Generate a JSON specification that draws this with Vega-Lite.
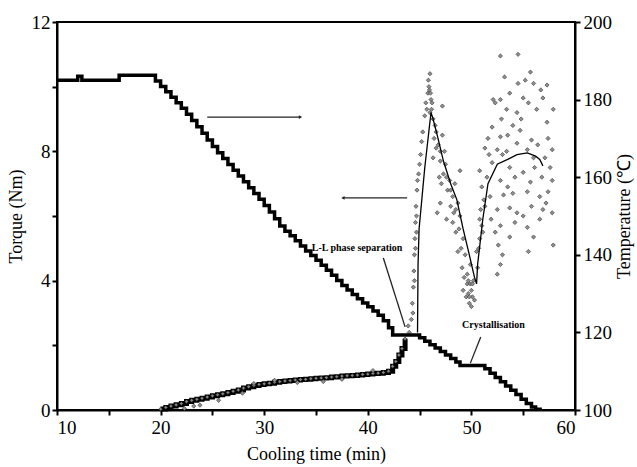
{
  "$schema": "https://vega.github.io/schema/vega-lite/v6.json",
  "autosize": {"type": "none"},
  "width": 518,
  "height": 388,
  "padding": {"left": 57, "top": 22, "right": 62, "bottom": 57},
  "background": "white",
  "config": {
    "view": {"stroke": "black", "strokeWidth": 2},
    "axis": {
      "grid": false,
      "domainColor": "black", "domainWidth": 2,
      "tickColor": "black", "tickWidth": 2, "tickSize": 5,
      "labelFont": "Liberation Serif", "labelFontSize": 19, "labelColor": "black",
      "titleFont": "Liberation Serif", "titleFontSize": 18, "titleFontWeight": "normal", "titleColor": "black"
    }
  },
  "datasets": {
    "temp": [
      {"t": 10.0, "v": 185.0}, {"t": 12.0, "v": 186.0}, {"t": 12.4, "v": 185.0},
      {"t": 16.0, "v": 186.3}, {"t": 19.0, "v": 186.3},
      {"t": 19.5, "v": 184.8}, {"t": 20.0, "v": 183.4}, {"t": 20.5, "v": 182.0}, {"t": 21.0, "v": 180.6},
      {"t": 21.5, "v": 179.2}, {"t": 22.0, "v": 177.8}, {"t": 22.5, "v": 176.2}, {"t": 23.0, "v": 174.6},
      {"t": 23.5, "v": 173.0}, {"t": 24.0, "v": 171.3}, {"t": 24.5, "v": 169.6}, {"t": 25.0, "v": 167.9},
      {"t": 25.5, "v": 166.3}, {"t": 26.0, "v": 164.8}, {"t": 26.5, "v": 163.3}, {"t": 27.0, "v": 161.8},
      {"t": 27.5, "v": 160.3}, {"t": 28.0, "v": 158.8}, {"t": 28.5, "v": 157.3}, {"t": 29.0, "v": 155.8},
      {"t": 29.5, "v": 154.3}, {"t": 30.0, "v": 152.7}, {"t": 30.5, "v": 151.0}, {"t": 31.0, "v": 149.3},
      {"t": 31.5, "v": 147.4}, {"t": 32.0, "v": 146.1}, {"t": 32.5, "v": 144.9}, {"t": 33.0, "v": 143.6},
      {"t": 33.5, "v": 142.3}, {"t": 34.0, "v": 141.0}, {"t": 34.5, "v": 139.8}, {"t": 35.0, "v": 138.6},
      {"t": 35.5, "v": 137.3}, {"t": 36.0, "v": 136.0}, {"t": 36.5, "v": 134.7}, {"t": 37.0, "v": 133.4},
      {"t": 37.5, "v": 132.1}, {"t": 38.0, "v": 130.9}, {"t": 38.5, "v": 129.8}, {"t": 39.0, "v": 128.7},
      {"t": 39.5, "v": 127.6}, {"t": 40.0, "v": 126.6}, {"t": 40.5, "v": 125.5}, {"t": 41.0, "v": 124.4},
      {"t": 41.5, "v": 123.0}, {"t": 42.0, "v": 121.2}, {"t": 42.4, "v": 119.3}, {"t": 45.0, "v": 118.6},
      {"t": 45.5, "v": 117.7}, {"t": 46.0, "v": 116.8}, {"t": 46.5, "v": 116.0}, {"t": 47.0, "v": 115.1},
      {"t": 47.5, "v": 114.2}, {"t": 48.0, "v": 113.3}, {"t": 48.5, "v": 112.4}, {"t": 48.9, "v": 111.5},
      {"t": 51.3, "v": 110.6}, {"t": 51.8, "v": 109.5}, {"t": 52.3, "v": 108.4}, {"t": 52.8, "v": 107.3},
      {"t": 53.3, "v": 106.2}, {"t": 53.8, "v": 105.1}, {"t": 54.3, "v": 104.0}, {"t": 54.8, "v": 102.8},
      {"t": 55.3, "v": 101.7}, {"t": 55.8, "v": 100.8}, {"t": 56.2, "v": 100.2}, {"t": 56.8, "v": 100.2}
    ],
    "band": [
      {"t": 20.0, "v": 0.03}, {"t": 20.5, "v": 0.08}, {"t": 21.0, "v": 0.12}, {"t": 21.5, "v": 0.16},
      {"t": 22.0, "v": 0.2}, {"t": 22.5, "v": 0.26}, {"t": 23.0, "v": 0.3}, {"t": 23.5, "v": 0.33},
      {"t": 24.0, "v": 0.36}, {"t": 24.5, "v": 0.4}, {"t": 25.0, "v": 0.44}, {"t": 25.5, "v": 0.47},
      {"t": 26.0, "v": 0.5}, {"t": 26.5, "v": 0.54}, {"t": 27.0, "v": 0.58}, {"t": 27.5, "v": 0.62},
      {"t": 28.0, "v": 0.68}, {"t": 28.5, "v": 0.72}, {"t": 29.0, "v": 0.76}, {"t": 29.5, "v": 0.79},
      {"t": 30.0, "v": 0.81}, {"t": 30.5, "v": 0.83}, {"t": 31.0, "v": 0.86}, {"t": 31.5, "v": 0.88},
      {"t": 32.0, "v": 0.9}, {"t": 32.5, "v": 0.91}, {"t": 33.0, "v": 0.93}, {"t": 33.5, "v": 0.94},
      {"t": 34.0, "v": 0.95}, {"t": 34.5, "v": 0.97}, {"t": 35.0, "v": 0.98}, {"t": 35.5, "v": 0.99},
      {"t": 36.0, "v": 1.0}, {"t": 36.5, "v": 1.02}, {"t": 37.0, "v": 1.03}, {"t": 37.5, "v": 1.05},
      {"t": 38.0, "v": 1.06}, {"t": 38.5, "v": 1.07}, {"t": 39.0, "v": 1.08}, {"t": 39.5, "v": 1.1},
      {"t": 40.0, "v": 1.11}, {"t": 40.5, "v": 1.13}, {"t": 41.0, "v": 1.14}, {"t": 41.5, "v": 1.16},
      {"t": 42.0, "v": 1.2}, {"t": 42.4, "v": 1.35}, {"t": 42.7, "v": 1.5}, {"t": 43.0, "v": 1.7},
      {"t": 43.3, "v": 1.9}, {"t": 43.6, "v": 2.2}
    ],
    "scatter": [
      {"t": 22.3, "v": 0.05}, {"t": 23.2, "v": 0.12}, {"t": 23.8, "v": 0.15}, {"t": 25.6, "v": 0.3},
      {"t": 27.9, "v": 0.52}, {"t": 29.0, "v": 0.82}, {"t": 31.0, "v": 0.92}, {"t": 33.2, "v": 0.85},
      {"t": 35.7, "v": 0.88}, {"t": 37.5, "v": 0.95}, {"t": 40.5, "v": 1.22},
      {"t": 43.9, "v": 2.6}, {"t": 44.0, "v": 2.4}, {"t": 44.2, "v": 2.8}, {"t": 44.3, "v": 3.3},
      {"t": 44.4, "v": 3.8}, {"t": 44.45, "v": 4.3}, {"t": 44.5, "v": 4.8}, {"t": 44.55, "v": 5.3},
      {"t": 44.6, "v": 5.8}, {"t": 44.65, "v": 6.3}, {"t": 44.75, "v": 6.8}, {"t": 44.9, "v": 7.3},
      {"t": 45.1, "v": 7.9}, {"t": 45.3, "v": 8.6}, {"t": 45.5, "v": 9.1}, {"t": 45.6, "v": 9.5},
      {"t": 44.7, "v": 6.0}, {"t": 44.8, "v": 7.1}, {"t": 45.0, "v": 7.6}, {"t": 45.2, "v": 8.3},
      {"t": 44.35, "v": 3.0}, {"t": 44.5, "v": 4.0}, {"t": 44.6, "v": 5.0}, {"t": 44.7, "v": 5.5},
      {"t": 46.0, "v": 10.4}, {"t": 45.9, "v": 10.0}, {"t": 45.8, "v": 9.8}, {"t": 46.1, "v": 9.6},
      {"t": 45.7, "v": 9.3}, {"t": 46.2, "v": 9.5}, {"t": 46.0, "v": 9.2}, {"t": 46.3, "v": 9.0},
      {"t": 45.85, "v": 10.2}, {"t": 45.95, "v": 9.9}, {"t": 46.05, "v": 9.8}, {"t": 46.15, "v": 9.3},
      {"t": 47.2, "v": 9.4}, {"t": 46.5, "v": 8.8}, {"t": 46.4, "v": 8.4}, {"t": 46.6, "v": 8.1},
      {"t": 46.3, "v": 7.8}, {"t": 46.8, "v": 8.2}, {"t": 47.0, "v": 8.0}, {"t": 47.2, "v": 8.5},
      {"t": 47.3, "v": 7.3}, {"t": 47.5, "v": 7.6}, {"t": 47.1, "v": 7.0}, {"t": 46.9, "v": 7.2},
      {"t": 47.9, "v": 7.1}, {"t": 47.7, "v": 6.8}, {"t": 48.2, "v": 6.6}, {"t": 47.0, "v": 6.4},
      {"t": 46.7, "v": 6.1}, {"t": 48.0, "v": 6.3}, {"t": 48.5, "v": 6.2}, {"t": 48.9, "v": 6.0},
      {"t": 48.9, "v": 7.4}, {"t": 48.7, "v": 6.4}, {"t": 48.2, "v": 5.8}, {"t": 48.5, "v": 5.5},
      {"t": 49.2, "v": 5.3}, {"t": 48.7, "v": 4.9}, {"t": 49.0, "v": 5.0}, {"t": 49.4, "v": 4.8},
      {"t": 49.9, "v": 4.5}, {"t": 49.6, "v": 4.2}, {"t": 49.6, "v": 3.9}, {"t": 50.1, "v": 3.5},
      {"t": 49.2, "v": 3.7}, {"t": 49.8, "v": 3.3}, {"t": 50.0, "v": 3.7}, {"t": 50.2, "v": 4.0},
      {"t": 49.7, "v": 3.6}, {"t": 50.3, "v": 3.4}, {"t": 49.9, "v": 3.9}, {"t": 49.5, "v": 3.5},
      {"t": 47.6, "v": 5.9}, {"t": 48.4, "v": 7.0}, {"t": 47.4, "v": 8.0},
      {"t": 46.6, "v": 8.6}, {"t": 47.0, "v": 7.7}, {"t": 47.6, "v": 7.2}, {"t": 48.0, "v": 6.8},
      {"t": 48.3, "v": 6.1}, {"t": 48.8, "v": 5.6}, {"t": 49.1, "v": 4.4}, {"t": 49.3, "v": 4.1},
      {"t": 49.8, "v": 3.5}, {"t": 50.0, "v": 3.2}, {"t": 49.7, "v": 4.0}, {"t": 50.1, "v": 3.9},
      {"t": 50.5, "v": 4.9}, {"t": 50.8, "v": 5.3}, {"t": 51.0, "v": 5.7}, {"t": 50.6, "v": 4.4},
      {"t": 50.9, "v": 6.2}, {"t": 50.7, "v": 5.0}, {"t": 51.2, "v": 6.5}, {"t": 52.6, "v": 5.1},
      {"t": 52.5, "v": 4.2}, {"t": 52.8, "v": 4.5}, {"t": 55.5, "v": 4.9}, {"t": 57.9, "v": 5.1},
      {"t": 51.9, "v": 5.9}, {"t": 53.0, "v": 4.8},
      {"t": 52.8, "v": 10.95}, {"t": 54.5, "v": 11.0}, {"t": 55.7, "v": 10.45}, {"t": 56.0, "v": 10.1},
      {"t": 57.3, "v": 10.05}, {"t": 54.5, "v": 10.1}, {"t": 52.3, "v": 9.5}, {"t": 52.8, "v": 9.6},
      {"t": 53.7, "v": 9.8}, {"t": 55.0, "v": 9.65}, {"t": 55.5, "v": 9.5}, {"t": 56.9, "v": 9.65},
      {"t": 57.9, "v": 9.3}, {"t": 53.4, "v": 9.3}, {"t": 54.4, "v": 9.2}, {"t": 56.3, "v": 9.3},
      {"t": 57.3, "v": 8.9}, {"t": 52.9, "v": 9.0}, {"t": 54.0, "v": 8.8}, {"t": 52.0, "v": 8.75},
      {"t": 51.6, "v": 8.4}, {"t": 51.3, "v": 8.1}, {"t": 52.8, "v": 8.45}, {"t": 53.5, "v": 8.5},
      {"t": 54.7, "v": 8.65}, {"t": 55.8, "v": 8.35}, {"t": 56.4, "v": 8.2}, {"t": 57.4, "v": 8.4},
      {"t": 57.8, "v": 8.05}, {"t": 57.1, "v": 7.8}, {"t": 52.5, "v": 8.05}, {"t": 53.4, "v": 8.0},
      {"t": 54.4, "v": 8.25}, {"t": 55.4, "v": 8.05}, {"t": 52.0, "v": 7.65}, {"t": 53.7, "v": 7.5},
      {"t": 55.0, "v": 7.35}, {"t": 56.1, "v": 7.5}, {"t": 57.6, "v": 7.5}, {"t": 51.5, "v": 7.2},
      {"t": 52.8, "v": 7.1}, {"t": 54.2, "v": 7.2}, {"t": 55.7, "v": 7.05}, {"t": 56.8, "v": 7.2},
      {"t": 57.8, "v": 7.1}, {"t": 50.8, "v": 7.4}, {"t": 51.0, "v": 6.9}, {"t": 51.8, "v": 6.6},
      {"t": 53.1, "v": 6.65}, {"t": 54.0, "v": 6.7}, {"t": 55.4, "v": 6.75}, {"t": 56.6, "v": 6.6},
      {"t": 57.4, "v": 6.75}, {"t": 51.3, "v": 6.3}, {"t": 52.5, "v": 6.2}, {"t": 53.7, "v": 6.25},
      {"t": 54.4, "v": 6.1}, {"t": 55.8, "v": 6.3}, {"t": 56.9, "v": 6.2}, {"t": 57.8, "v": 6.1},
      {"t": 50.8, "v": 5.9}, {"t": 52.8, "v": 5.7}, {"t": 54.2, "v": 5.8}, {"t": 55.4, "v": 5.65},
      {"t": 56.6, "v": 5.9}, {"t": 51.1, "v": 5.5}, {"t": 52.3, "v": 5.5}, {"t": 53.7, "v": 5.35},
      {"t": 56.0, "v": 5.35}, {"t": 52.1, "v": 9.6}, {"t": 53.2, "v": 10.3}, {"t": 55.2, "v": 10.2},
      {"t": 56.7, "v": 9.9}, {"t": 54.8, "v": 9.0}, {"t": 53.0, "v": 7.9}, {"t": 56.0, "v": 7.8},
      {"t": 57.2, "v": 6.4}, {"t": 53.5, "v": 6.9}, {"t": 55.0, "v": 6.0}, {"t": 51.7, "v": 7.9}
    ],
    "fit": [
      {"t": 44.8, "v": 2.4}, {"t": 44.85, "v": 4.5}, {"t": 44.95, "v": 5.6}, {"t": 45.5, "v": 7.5},
      {"t": 46.1, "v": 9.2}, {"t": 46.3, "v": 9.0}, {"t": 46.7, "v": 8.5}, {"t": 47.3, "v": 7.7},
      {"t": 48.0, "v": 7.0}, {"t": 48.6, "v": 6.5}, {"t": 49.2, "v": 5.6}, {"t": 49.8, "v": 4.8},
      {"t": 50.3, "v": 4.1}, {"t": 50.5, "v": 3.9}, {"t": 50.6, "v": 4.5}, {"t": 51.1, "v": 5.9},
      {"t": 51.6, "v": 7.0}, {"t": 52.5, "v": 7.6}, {"t": 53.5, "v": 7.75}, {"t": 54.4, "v": 7.9},
      {"t": 55.4, "v": 7.95}, {"t": 56.2, "v": 7.85}, {"t": 56.6, "v": 7.75}, {"t": 56.9, "v": 7.55}
    ],
    "arrows": [
      {"t": 24.5, "v": 9.06, "t2": 33.5, "v2": 9.06},
      {"t": 43.8, "v": 6.56, "t2": 37.6, "v2": 6.56},
      {"t": 41.5, "v": 4.7, "t2": 43.6, "v2": 2.57},
      {"t": 50.9, "v": 2.26, "t2": 49.9, "v2": 1.45}
    ],
    "heads": [
      {"t": 33.5, "v": 9.06, "dir": "triangle-right"},
      {"t": 37.6, "v": 6.56, "dir": "triangle-left"}
    ],
    "labels": [
      {"t": 34.6, "v": 5.0, "text": "L-L phase separation"},
      {"t": 49.1, "v": 2.63, "text": "Crystallisation"}
    ]
  },
  "layer": [
    {
      "encoding": {
        "x": {"field": "t", "type": "quantitative", "scale": {"domain": [10, 60], "nice": false},
          "axis": {"title": "Cooling time  (min)", "values": [10, 15, 20, 25, 30, 35, 40, 45, 50, 55, 60],
            "labelExpr": "datum.value % 10 == 0 ? datum.label : ''", "titlePadding": 8, "labelPadding": 3}},
        "y": {"field": "v", "type": "quantitative", "scale": {"domain": [0, 12], "nice": false},
          "axis": {"title": "Torque (Nm)", "values": [0, 2, 4, 6, 8, 10, 12],
            "labelExpr": "datum.value % 4 == 0 ? datum.label : ''", "titlePadding": 6, "labelPadding": 2}}
      },
      "layer": [
        {
          "data": {"name": "band"},
          "mark": {"type": "line", "interpolate": "step-after", "color": "black", "strokeWidth": 5}
        },
        {
          "data": {"name": "band"},
          "mark": {"type": "point", "shape": "diamond", "filled": true, "size": 14, "color": "#888888", "stroke": "#222222", "strokeWidth": 0.6, "opacity": 1}
        },
        {
          "data": {"name": "scatter"},
          "mark": {"type": "point", "shape": "diamond", "filled": true, "size": 18, "color": "#8f8f8f", "stroke": "#333333", "strokeWidth": 0.6, "opacity": 1}
        },
        {
          "data": {"name": "fit"},
          "mark": {"type": "line", "color": "black", "strokeWidth": 1.3}
        },
        {
          "data": {"name": "arrows"},
          "mark": {"type": "rule", "color": "#222222", "strokeWidth": 1.3},
          "encoding": {
            "x2": {"field": "t2"},
            "y2": {"field": "v2"}
          }
        },
        {
          "data": {"name": "heads"},
          "mark": {"type": "point", "filled": true, "size": 14, "color": "#222222", "opacity": 1},
          "encoding": {
            "shape": {"field": "dir", "type": "nominal", "scale": null}
          }
        },
        {
          "data": {"name": "labels"},
          "mark": {"type": "text", "align": "left", "baseline": "middle", "font": "Liberation Serif", "fontSize": 10, "fontWeight": "bold", "color": "black"},
          "encoding": {
            "text": {"field": "text"}
          }
        }
      ]
    },
    {
      "data": {"name": "temp"},
      "mark": {"type": "line", "interpolate": "step-after", "color": "black", "strokeWidth": 3.5},
      "encoding": {
        "x": {"field": "t", "type": "quantitative"},
        "y": {"field": "v", "type": "quantitative", "scale": {"domain": [100, 200], "nice": false},
          "axis": {"orient": "right", "title": "Temperature  (℃)", "values": [100, 120, 140, 160, 180, 200],
            "titleAngle": -90, "titleBaseline": "top", "titlePadding": 4, "labelPadding": 3}}
      }
    }
  ],
  "resolve": {"scale": {"y": "independent"}, "axis": {"y": "independent"}}
}
